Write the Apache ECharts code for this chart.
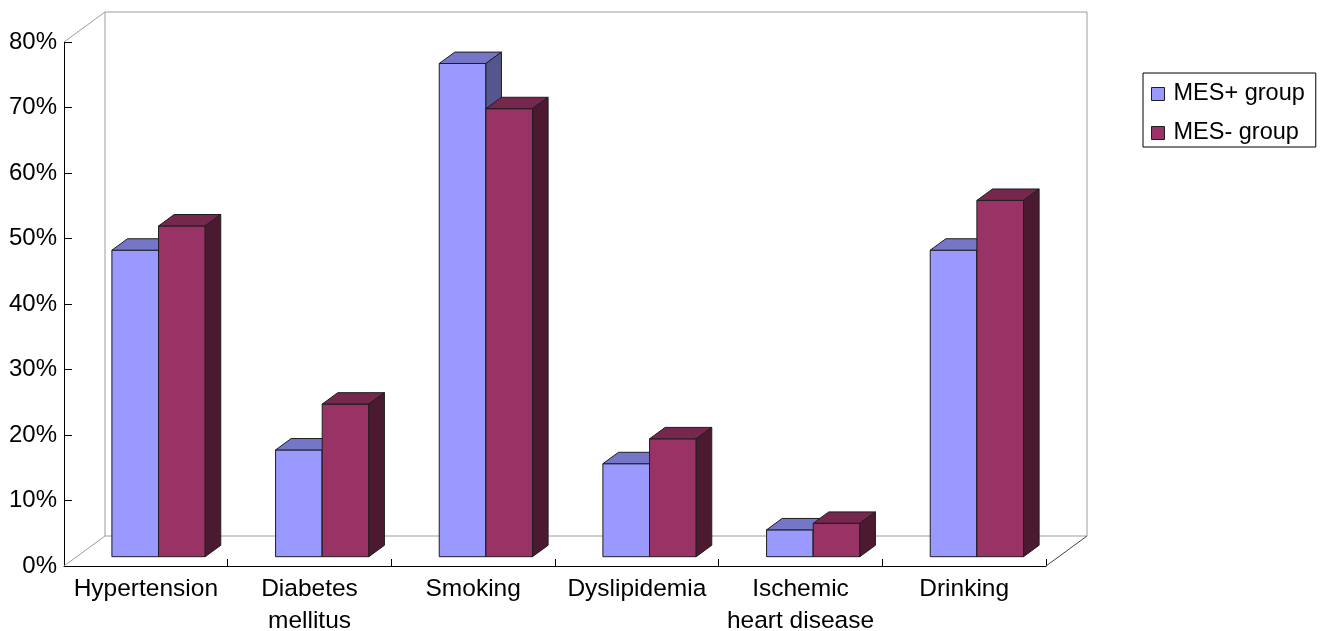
<!DOCTYPE html>
<html>
<head>
<meta charset="utf-8">
<script src="https://cdn.jsdelivr.net/npm/echarts@6/dist/echarts.min.js"></script>
<style>
html, body { margin: 0; padding: 0; background: #ffffff; }
#chart { width: 1324px; height: 631px; }
</style>
</head>
<body>
<div id="chart"></div>
<script>
// Risk factor prevalence (%) by group
const categories = ['Hypertension', 'Diabetes\nmellitus', 'Smoking', 'Dyslipidemia', 'Ischemic\nheart disease', 'Drinking'];
const mesPlus  = [46.8, 16.3, 75.3, 14.2, 4.1, 46.8];
const mesMinus = [50.5, 23.3, 68.4, 18.0, 5.1, 54.4];
const seriesNames = ['MES+ group', 'MES- group'];
const yMax = 80;
const yStep = 10;

// Oblique 3D look: depth vector of the floor, and where the bars sit inside it
const DEPTH = [41, -30];
const BAR_FRONT = 0.31;   // fraction of depth in front of the bars
const BAR_DEPTH = 0.38;   // fraction of depth taken by each bar
const BAR_WIDTH = 0.285;  // bar width as a fraction of a category band
const FONT = '"Liberation Sans", Arial, sans-serif';

const palettes = [
  { front: '#9999FF', top: '#7676C8', side: '#56568F' },
  { front: '#993366', top: '#76274E', side: '#4B1A31' }
];
const EDGE = '#1e1e1e';

function barRenderer(idx) {
  const pal = palettes[idx];
  return function (params, api) {
    const cat = api.value(0);
    const v = api.value(1);
    const base = api.coord([cat, 0]);
    const top = api.coord([cat, v]);
    const bw = api.size([1, 0])[0] * BAR_WIDTH;
    const ox = DEPTH[0] * BAR_FRONT, oy = DEPTH[1] * BAR_FRONT;
    const dx = DEPTH[0] * BAR_DEPTH, dy = DEPTH[1] * BAR_DEPTH;
    const x0 = base[0] - bw + idx * bw + ox;
    const x1 = x0 + bw;
    const yb = base[1] + oy;
    const yt = top[1] + oy;
    const stroke = { stroke: EDGE, lineWidth: 1, lineJoin: 'miter' };
    return {
      type: 'group',
      children: [
        { type: 'polygon', shape: { points: [[x0, yb], [x1, yb], [x1, yt], [x0, yt]] },
          style: Object.assign({ fill: pal.front }, stroke) },
        { type: 'polygon', shape: { points: [[x0, yt], [x1, yt], [x1 + dx, yt + dy], [x0 + dx, yt + dy]] },
          style: Object.assign({ fill: pal.top }, stroke) },
        { type: 'polygon', shape: { points: [[x1, yb], [x1 + dx, yb + dy], [x1 + dx, yt + dy], [x1, yt]] },
          style: Object.assign({ fill: pal.side }, stroke) }
      ]
    };
  };
}

// Back wall, side wall and floor outlines
function wallRenderer(params, api) {
  const cs = params.coordSys;
  const x = cs.x, y = cs.y, w = cs.width, h = cs.height;
  const dx = DEPTH[0], dy = DEPTH[1];
  const light = { stroke: '#9c9c9c', lineWidth: 1 };
  const dark = { stroke: '#444444', lineWidth: 1 };
  const line = (a, b, st) => ({ type: 'line', shape: { x1: a[0], y1: a[1], x2: b[0], y2: b[1] }, style: st });
  return {
    type: 'group',
    children: [
      line([x + dx, y + dy], [x + w + dx, y + dy], light),
      line([x + w + dx, y + dy], [x + w + dx, y + h + dy], light),
      line([x + dx, y + h + dy], [x + w + dx, y + h + dy], light),
      line([x + dx, y + dy], [x + dx, y + h + dy], light),
      line([x, y], [x + dx, y + dy], light),
      line([x, y + h], [x + dx, y + h + dy], light),
      line([x + w, y + h], [x + w + dx, y + h + dy], dark)
    ]
  };
}

const chart = echarts.init(document.getElementById('chart'), null, { renderer: 'canvas' });

chart.setOption({
  animation: false,
  backgroundColor: '#ffffff',
  textStyle: { fontFamily: FONT },
  grid: { left: 64, top: 42, width: 982, height: 524, containLabel: false, outerBoundsMode: 'none' },
  legend: {
    orient: 'vertical',
    left: 1143,
    top: 73,
    padding: [9, 11, 2, 8],
    itemWidth: 13,
    itemHeight: 13,
    itemGap: 15,
    borderColor: '#000000',
    borderWidth: 1,
    selectedMode: false,
    textStyle: { fontSize: 23.5, color: '#000000', fontFamily: FONT, padding: [0, 0, 0, 4] },
    data: seriesNames.map((n, i) => ({
      name: n,
      icon: 'rect',
      itemStyle: { color: palettes[i].front, borderColor: EDGE, borderWidth: 1 }
    }))
  },
  xAxis: {
    type: 'category',
    data: categories,
    boundaryGap: true,
    axisLine: { show: true, lineStyle: { color: '#000000', width: 1 } },
    axisTick: { show: true, inside: true, length: 7, lineStyle: { color: '#000000' } },
    axisLabel: { interval: 0, margin: 7, fontSize: 24.5, lineHeight: 32, color: '#000000', fontFamily: FONT },
    splitLine: { show: false }
  },
  yAxis: {
    type: 'value',
    min: 0,
    max: yMax,
    interval: yStep,
    axisLine: { show: true, lineStyle: { color: '#000000', width: 1 } },
    axisTick: { show: true, inside: true, length: 8, lineStyle: { color: '#000000' } },
    axisLabel: { formatter: '{value}%', margin: 7, fontSize: 24, color: '#000000', fontFamily: FONT },
    splitLine: { show: false }
  },
  series: [
    {
      type: 'custom',
      z: 1,
      silent: true,
      renderItem: wallRenderer,
      data: [[0, 0]]
    },
    {
      name: seriesNames[0],
      type: 'custom',
      z: 2,
      renderItem: barRenderer(0),
      itemStyle: { color: palettes[0].front },
      data: mesPlus.map((v, i) => [i, v])
    },
    {
      name: seriesNames[1],
      type: 'custom',
      z: 3,
      renderItem: barRenderer(1),
      itemStyle: { color: palettes[1].front },
      data: mesMinus.map((v, i) => [i, v])
    }
  ]
});
</script>
</body>
</html>
